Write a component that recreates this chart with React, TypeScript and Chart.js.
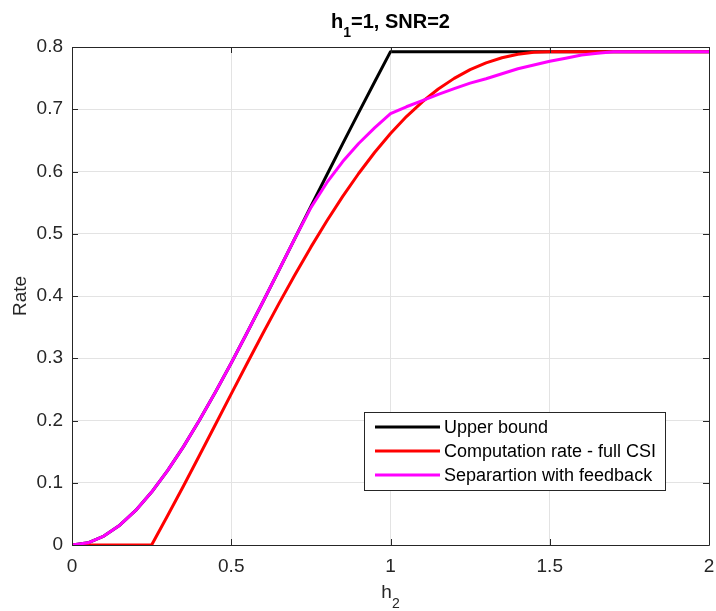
import React, { useEffect, useRef } from "react";
import { Chart, registerables } from "chart.js";

Chart.register(...registerables);

const h2Values = [
  0, 0.05, 0.1, 0.15, 0.2, 0.25, 0.3, 0.35, 0.4, 0.45, 0.5, 0.55, 0.6, 0.65, 0.7, 0.75, 0.8, 0.85, 0.9, 0.95, 1.0,
  1.05, 1.1, 1.15, 1.2, 1.25, 1.3, 1.35, 1.4, 1.45, 1.5, 1.55, 1.6, 1.65, 1.7, 1.75, 1.8, 1.85, 1.9, 1.95, 2.0,
];

const upperBound = [
  0, 0.0036, 0.0143, 0.0318, 0.0555, 0.085, 0.1194, 0.158, 0.2003, 0.2454, 0.2925, 0.3413, 0.3912, 0.4418, 0.4927,
  0.5437, 0.5944, 0.6448, 0.6946, 0.7438, 0.7925, 0.7925, 0.7925, 0.7925, 0.7925, 0.7925, 0.7925, 0.7925, 0.7925,
  0.7925, 0.7925, 0.7925, 0.7925, 0.7925, 0.7925, 0.7925, 0.7925, 0.7925, 0.7925, 0.7925, 0.7925,
];

const computationRate = [
  0, 0, 0, 0, 0, 0, 0.0469, 0.0949, 0.1438, 0.1932, 0.2427, 0.292, 0.3406, 0.3881, 0.4342, 0.4785, 0.5205, 0.56,
  0.5968, 0.6305, 0.661, 0.6882, 0.712, 0.7325, 0.7496, 0.7636, 0.7746, 0.7828, 0.7883, 0.7915, 0.7925, 0.7925,
  0.7925, 0.7925, 0.7925, 0.7925, 0.7925, 0.7925, 0.7925, 0.7925, 0.7925,
];

const separationFeedback = [
  0, 0.0036, 0.0143, 0.0318, 0.0555, 0.085, 0.1194, 0.158, 0.2003, 0.2454, 0.2925, 0.3413, 0.3912, 0.4418, 0.4927,
  0.542, 0.582, 0.616, 0.645, 0.67, 0.693, 0.704, 0.714, 0.724, 0.733, 0.742, 0.749, 0.757, 0.765, 0.771, 0.777,
  0.782, 0.787, 0.79, 0.7925, 0.7925, 0.7925, 0.7925, 0.7925, 0.7925, 0.7925,
];

const xTicks = [0, 0.5, 1, 1.5, 2];
const yTicks = [0, 0.1, 0.2, 0.3, 0.4, 0.5, 0.6, 0.7, 0.8];

const seriesNames = ["Upper bound", "Computation rate - full CSI", "Separartion with feedback"];
const seriesColors = ["#000000", "#ff0000", "#ff00ff"];

const FONT = "'Liberation Sans', Arial, Helvetica, sans-serif";
const AXIS_COLOR = "#262626";

const decorPlugin = {
  id: "decor",
  afterDraw(chart: any) {
    const { ctx, chartArea } = chart;
    const { left, right, top, bottom } = chartArea;
    const xs = chart.scales.x;
    const ys = chart.scales.y;
    ctx.save();
    // box
    ctx.strokeStyle = AXIS_COLOR;
    ctx.lineWidth = 1;
    ctx.beginPath();
    ctx.rect(Math.round(left) + 0.5, Math.round(top) + 0.5, Math.round(right - left), Math.round(bottom - top));
    ctx.stroke();
    // inward ticks
    const tl = 6;
    ctx.beginPath();
    xTicks.forEach((v) => {
      const px = Math.round(xs.getPixelForValue(v)) + 0.5;
      ctx.moveTo(px, bottom);
      ctx.lineTo(px, bottom - tl);
      ctx.moveTo(px, top);
      ctx.lineTo(px, top + tl);
    });
    yTicks.forEach((v) => {
      const py = Math.round(ys.getPixelForValue(v)) + 0.5;
      ctx.moveTo(left, py);
      ctx.lineTo(left + tl, py);
      ctx.moveTo(right, py);
      ctx.lineTo(right - tl, py);
    });
    ctx.stroke();

    // title with subscript
    ctx.fillStyle = "#000000";
    ctx.textBaseline = "alphabetic";
    ctx.textAlign = "left";
    const tMain = "bold 20px " + FONT;
    const tSub = "bold 14px " + FONT;
    ctx.font = tMain;
    const wh = ctx.measureText("h").width;
    const wrest = ctx.measureText("=1, SNR=2").width;
    ctx.font = tSub;
    const ws = ctx.measureText("1").width;
    const tw = wh + ws + wrest;
    let tx = (left + right) / 2 - tw / 2;
    const tb = 28;
    ctx.font = tMain;
    ctx.fillText("h", tx, tb);
    tx += wh;
    ctx.font = tSub;
    ctx.fillText("1", tx, tb + 9);
    tx += ws;
    ctx.font = tMain;
    ctx.fillText("=1, SNR=2", tx, tb);

    // x label
    ctx.fillStyle = AXIS_COLOR;
    const xMain = "19px " + FONT;
    const xSub = "14px " + FONT;
    ctx.font = xMain;
    const wxh = ctx.measureText("h").width;
    ctx.font = xSub;
    const wx2 = ctx.measureText("2").width;
    let xx = (left + right) / 2 - (wxh + wx2) / 2;
    ctx.font = xMain;
    ctx.fillText("h", xx, 598);
    xx += wxh;
    ctx.font = xSub;
    ctx.fillText("2", xx, 608);

    // y label
    ctx.save();
    ctx.translate(26, (top + bottom) / 2);
    ctx.rotate(-Math.PI / 2);
    ctx.textAlign = "center";
    ctx.font = "19px " + FONT;
    ctx.fillText("Rate", 0, 0);
    ctx.restore();

    // legend
    const lx = 364.5;
    const ly = 412.5;
    const lw = 301;
    const lh = 78;
    ctx.fillStyle = "#ffffff";
    ctx.fillRect(lx, ly, lw, lh);
    ctx.strokeStyle = AXIS_COLOR;
    ctx.lineWidth = 1;
    ctx.strokeRect(lx, ly, lw, lh);
    ctx.font = "18px " + FONT;
    ctx.textBaseline = "middle";
    seriesNames.forEach((name, i) => {
      const yy = 427 + i * 24;
      ctx.strokeStyle = seriesColors[i];
      ctx.lineWidth = 3;
      ctx.beginPath();
      ctx.moveTo(375, yy);
      ctx.lineTo(440, yy);
      ctx.stroke();
      ctx.fillStyle = "#000000";
      ctx.fillText(name, 444, yy + 1);
    });
    ctx.restore();
  },
};

export default function App() {
  const ref = useRef<HTMLCanvasElement | null>(null);
  useEffect(() => {
    if (!ref.current) return;
    const mk = (vals: number[]) => h2Values.map((x, i) => ({ x, y: vals[i] }));
    const chart = new Chart(ref.current, {
      type: "line",
      data: {
        datasets: [
          { label: seriesNames[0], data: mk(upperBound), borderColor: seriesColors[0], order: 2 },
          { label: seriesNames[1], data: mk(computationRate), borderColor: seriesColors[1], order: 1 },
          { label: seriesNames[2], data: mk(separationFeedback), borderColor: seriesColors[2], order: 0 },
        ].map((d) => ({
          ...d,
          borderWidth: 3,
          pointRadius: 0,
          pointHoverRadius: 0,
          fill: false,
          tension: 0,
          borderJoinStyle: "round" as const,
        })),
      },
      options: {
        responsive: false,
        animation: false,
        devicePixelRatio: 1,
        events: [],
        layout: { padding: { top: 47, right: 7, left: 0, bottom: 0 } },
        plugins: { legend: { display: false }, title: { display: false }, tooltip: { enabled: false } },
        scales: {
          x: {
            type: "linear",
            min: 0,
            max: 2,
            afterBuildTicks: (axis: any) => {
              axis.ticks = xTicks.map((v) => ({ value: v }));
            },
            afterFit: (axis: any) => {
              axis.height = 66;
              axis.paddingLeft = 0;
              axis.paddingRight = 0;
            },
            ticks: {
              font: { family: FONT, size: 19 },
              color: AXIS_COLOR,
              padding: 10,
              maxRotation: 0,
              autoSkip: false,
              callback: (v: any) => String(Number(Number(v).toFixed(1))),
            },
            grid: { color: "#e3e3e3", lineWidth: 1, drawTicks: false },
            border: { display: false },
          },
          y: {
            type: "linear",
            min: 0,
            max: 0.8,
            afterBuildTicks: (axis: any) => {
              axis.ticks = yTicks.map((v) => ({ value: v }));
            },
            afterFit: (axis: any) => {
              axis.width = 72;
              axis.paddingTop = 0;
              axis.paddingBottom = 0;
            },
            ticks: {
              font: { family: FONT, size: 19 },
              color: AXIS_COLOR,
              padding: 9,
              autoSkip: false,
              callback: (v: any) => String(Number(Number(v).toFixed(1))),
            },
            grid: { color: "#e3e3e3", lineWidth: 1, drawTicks: false },
            border: { display: false },
          },
        },
      },
      plugins: [decorPlugin],
    });
    return () => chart.destroy();
  }, []);
  return (
    <div style={{ position: "fixed", left: 0, top: 0, width: 716, height: 611, background: "#ffffff" }}>
      <canvas ref={ref} width={716} height={611} style={{ display: "block", width: 716, height: 611 }} />
    </div>
  );
}
